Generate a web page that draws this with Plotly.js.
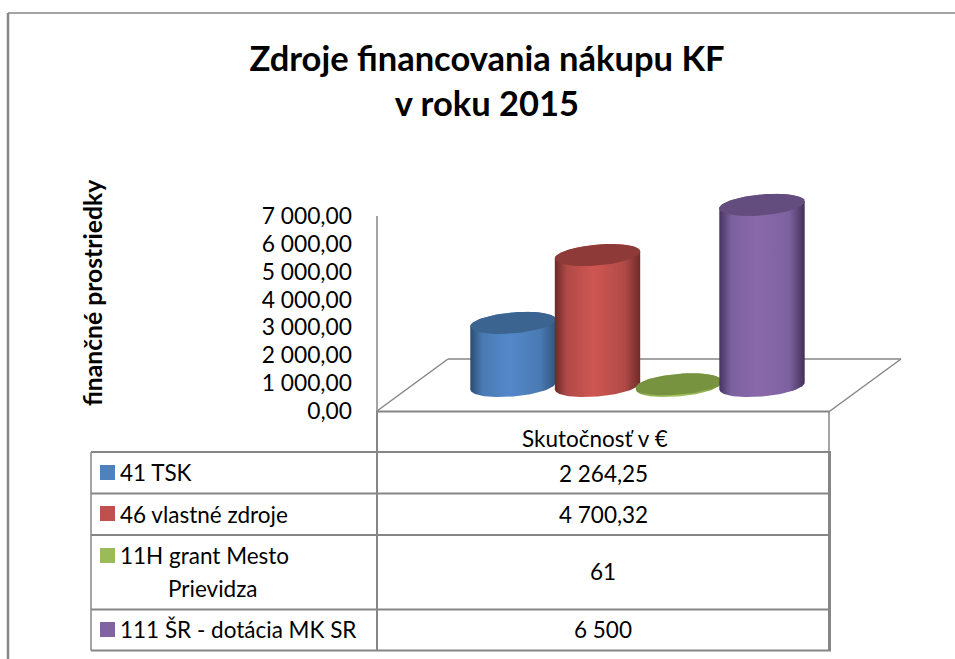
<!DOCTYPE html>
<html>
<head>
<meta charset="utf-8">
<script src="https://cdn.plot.ly/plotly-3.0.1.min.js"></script>
<style>html,body{margin:0;padding:0;background:#fff}#chart{width:955px;height:659px}</style>
</head>
<body>
<div id="chart"></div>
<script>
// ---- data ----
const seriesNames = ['41 TSK', '46 vlastné zdroje', '11H grant Mesto', '111 ŠR - dotácia MK SR'];
const seriesValues = [2264.25, 4700.32, 61, 6500];
const tableValues = ['2 264,25', '4 700,32', '61', '6 500'];
const tableHeader = 'Skutočnosť v €';
const tickValues = [0, 1000, 2000, 3000, 4000, 5000, 6000, 7000];
const tickLabels = ['0,00', '1 000,00', '2 000,00', '3 000,00', '4 000,00', '5 000,00', '6 000,00', '7 000,00'];
const chartTitle = 'Zdroje financovania nákupu KF<br>v roku 2015';
const yTitle = 'finančné prostriedky';

// ---- styles ----
const keyColors = ['#4f81bd', '#c0504d', '#9bbb59', '#8064a2'];
const capColors = ['#3c6491', '#8e3a38', '#78933f', '#634c7e'];
const sideRamps = [
  ['#2b4c74', '#4a7ab3', '#5388c9', '#4a7ab3', '#2f5480'],
  ['#6a2a28', '#b04a47', '#cf5652', '#b04a47', '#6f2b29'],
  ['#6f8a37', '#93b254', '#a6c761', '#93b254', '#6f8a37'],
  ['#46345f', '#7c619f', '#8a69ab', '#7c619f', '#433158']
];
const FONT = 'Lato, Carlito, sans-serif';
const GRID = '#868686';

// ---- layout geometry (pixels in the 955x659 page) ----
const W = 955, H = 659;
const plotL = 377, plotR = 901, zeroY = 411, pxPerUnit = 195 / 7000, yTop = 8500;
const centerPx = [513, 597.5, 678.5, 762];
const stepPx = 83;
const fx = p => p / W, fy = p => 1 - p / H;
const xOf = p => (p - centerPx[0]) / stepPx;
const dy = px => px / pxPerUnit;

const base = dy(25);            // cylinder foot above the axis zero (depth)
const rx = 42.7 / stepPx;       // ellipse half width
const ry = dy(10.5);            // ellipse half height
const skew = dy(3.5);           // ellipse tilt
const pos = centerPx.map(xOf);

function arc(cx, cy, from, to) {
  const xs = [], ys = [];
  const n = 60;
  for (let i = 0; i <= n; i++) {
    const t = from + (to - from) * i / n;
    xs.push(cx + rx * Math.cos(t));
    ys.push(cy + ry * Math.sin(t) + skew * Math.cos(t));
  }
  return [xs, ys];
}

function ramp(colors) {
  const stops = [0, 0.14, 0.45, 0.82, 1];
  return colors.map((c, i) => [stops[i], c]);
}

const traces = [];
// the real value bars, hidden inside the cylinder bodies
traces.push({
  type: 'bar', x: pos, y: seriesValues, base: base, width: 0.85,
  marker: {color: keyColors}, hoverinfo: 'y', showlegend: false
});
seriesValues.forEach((v, i) => {
  const c = pos[i];
  const foot = arc(c, base, Math.PI, 2 * Math.PI);
  const head = arc(c, base + v, 0, Math.PI);
  traces.push({
    type: 'scatter', mode: 'lines', name: seriesNames[i],
    x: foot[0].concat(head[0]), y: foot[1].concat(head[1]),
    fill: 'toself', line: {width: 0},
    fillgradient: {type: 'horizontal', colorscale: ramp(sideRamps[i])},
    hoverinfo: 'skip', showlegend: false
  });
  const cap = arc(c, base + v, 0, 2 * Math.PI);
  traces.push({
    type: 'scatter', mode: 'lines', x: cap[0], y: cap[1],
    fill: 'toself', fillcolor: capColors[i], line: {width: 0},
    hoverinfo: 'skip', showlegend: false
  });
});

// ---- frame, floor and table ----
const shapes = [];
function seg(x0, y0, x1, y1, w, color, layer) {
  shapes.push({type: 'line', xref: 'paper', yref: 'paper',
    x0: fx(x0), y0: fy(y0), x1: fx(x1), y1: fy(y1),
    line: {color: color || GRID, width: w || 2}, layer: layer || 'below'});
}
seg(8, 13, 8, 659, 2.5);
seg(8, 13, 955, 13, 1.5);
seg(377, 216, 377, 411, 1.5);
seg(377, 411, 448, 359, 1.5);
seg(448, 359, 901, 359, 1.5);
seg(901, 359, 830, 411, 1.5);
seg(377, 411.5, 830, 411.5, 2);
seg(829, 411, 829, 452, 1.5);
const rowLines = [452, 493.5, 535, 609.5, 650.5];
rowLines.forEach(y => seg(91, y, 831, y, 2));
seg(91, 452, 91, 650.5, 1.5);
seg(377, 411, 377, 650.5, 2);
seg(829.5, 452, 829.5, 650.5, 3);

const keyY = [472.5, 513.5, 555.5, 629.5];
keyColors.forEach((c, i) => shapes.push({
  type: 'rect', xref: 'paper', yref: 'paper', layer: 'above',
  x0: fx(100), x1: fx(115), y0: fy(keyY[i] - 7.5), y1: fy(keyY[i] + 7.5),
  fillcolor: c, line: {width: 0}
}));

// ---- text ----
const annotations = [];
function txt(text, x, y, anchor, size, extra) {
  annotations.push(Object.assign({
    text, x: fx(x), y: fy(y), xref: 'paper', yref: 'paper',
    xanchor: anchor, yanchor: 'middle', showarrow: false,
    font: {family: FONT, size: size, color: '#000'}
  }, extra || {}));
}
const TS = 22.5;
txt(tableHeader, 595, 438, 'center', TS);
const nameY = [472, 514, 555, 629];
seriesNames.forEach((n, i) => txt(n, 118, nameY[i], 'left', TS));
txt('Prievidza', 212, 588, 'center', TS);
const valueY = [473, 514, 571, 629];
tableValues.forEach((v, i) => txt(v, 603, valueY[i], 'center', TS));
txt(yTitle, 93, 293, 'center', 24.7, {
  textangle: -90,
  font: {family: FONT, size: 24.7, color: '#000', weight: 700}
});

const layout = {
  width: W, height: H,
  margin: {l: 0, r: 0, t: 0, b: 0},
  paper_bgcolor: '#fff', plot_bgcolor: 'rgba(0,0,0,0)',
  showlegend: false,
  barmode: 'overlay',
  title: {
    text: chartTitle,
    x: 487 / W, xanchor: 'center', y: 1 - 71 / H, yanchor: 'middle',
    font: {family: FONT, size: 34.5, color: '#000', weight: 700}
  },
  xaxis: {
    visible: false, domain: [fx(plotL), fx(plotR)],
    range: [xOf(plotL), xOf(plotR)], fixedrange: true
  },
  yaxis: {
    domain: [fy(zeroY), fy(zeroY - yTop * pxPerUnit)],
    range: [0, yTop], showgrid: false, zeroline: false, showline: false,
    tickmode: 'array', tickvals: tickValues, ticktext: tickLabels,
    ticks: '', ticklabelstandoff: 24,
    tickfont: {family: FONT, size: 22.8, color: '#000'}, fixedrange: true
  },
  shapes, annotations
};
Plotly.newPlot('chart', traces, layout, {staticPlot: true, displayModeBar: false});
</script>
</body>
</html>
